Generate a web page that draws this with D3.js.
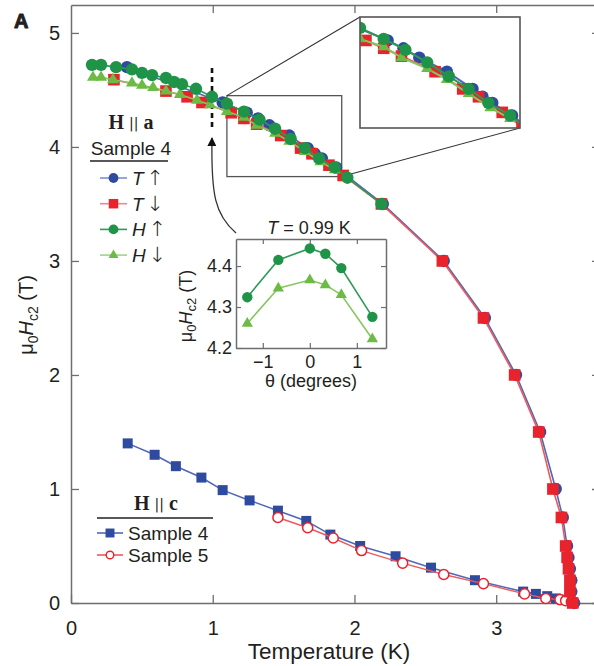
<!DOCTYPE html>
<html><head><meta charset="utf-8">
<script src="https://cdn.jsdelivr.net/npm/d3@7"></script>
<style>
body{margin:0;background:#fff}
text{font-family:"Liberation Sans",Arial,sans-serif;fill:#231f20}
</style>
</head><body>
<svg id="chart" width="594" height="666"></svg>
<script>
// Upper critical field of sample 4 for H || a
// T-sweeps (temperature up / down) and H-sweeps (field up / down)
const tUpT = [0.395, 1.07, 1.24, 1.32, 1.40, 1.54, 1.67, 1.72, 1.77, 1.87, 2.20, 2.63, 2.92, 3.14, 3.31, 3.42, 3.47, 3.50, 3.51, 3.52, 3.53, 3.53, 3.55];
const tUpH = [4.70, 4.39, 4.30, 4.25, 4.19, 4.10, 3.99, 3.94, 3.90, 3.82, 3.50, 3.00, 2.50, 2.00, 1.50, 1.00, 0.75, 0.50, 0.40, 0.30, 0.20, 0.10, 0.00];

const tDownT = [0.303, 0.670, 0.819, 0.924, 1.13, 1.22, 1.31, 1.48, 1.62, 1.70, 1.82, 1.92, 2.19, 2.62, 2.91, 3.13, 3.30, 3.40, 3.46, 3.49, 3.50, 3.51, 3.52, 3.52, 3.54];
const tDownH = [4.59, 4.49, 4.44, 4.39, 4.30, 4.25, 4.20, 4.10, 3.99, 3.94, 3.84, 3.75, 3.50, 3.00, 2.50, 2.00, 1.50, 1.00, 0.75, 0.50, 0.40, 0.30, 0.20, 0.10, 0.00];

const hUpT = [0.148, 0.212, 0.318, 0.430, 0.501, 0.572, 0.670, 0.727, 0.783, 0.882, 0.995, 1.10, 1.22, 1.33, 1.44, 1.55, 1.65, 1.75, 1.86, 1.95, 2.19];
const hUpH = [4.72, 4.72, 4.70, 4.68, 4.65, 4.63, 4.605, 4.57, 4.55, 4.51, 4.44, 4.38, 4.31, 4.24, 4.16, 4.07, 3.99, 3.90, 3.82, 3.73, 3.50];

const hDownT = [0.155, 0.212, 0.296, 0.430, 0.501, 0.579, 0.670, 0.769, 0.889, 0.981, 1.10, 1.22, 1.31, 1.44, 1.54, 1.65, 1.76, 1.86];
const hDownH = [4.61, 4.61, 4.59, 4.56, 4.54, 4.52, 4.49, 4.46, 4.41, 4.37, 4.31, 4.26, 4.19, 4.12, 4.05, 3.96, 3.87, 3.80];

// H || c, samples 4 and 5
const c4T = [0.40, 0.59, 0.74, 0.92, 1.07, 1.26, 1.46, 1.66, 1.83, 2.04, 2.29, 2.54, 2.85, 3.19, 3.28, 3.36, 3.42, 3.47, 3.51, 3.54];
const c4H = [1.40, 1.30, 1.20, 1.10, 0.99, 0.90, 0.81, 0.72, 0.60, 0.50, 0.41, 0.31, 0.20, 0.10, 0.08, 0.06, 0.04, 0.03, 0.02, 0.00];
const c5T = [1.46, 1.67, 1.85, 2.05, 2.34, 2.63, 2.91, 3.20, 3.35, 3.45, 3.49, 3.53];
const c5H = [0.75, 0.66, 0.57, 0.46, 0.35, 0.25, 0.17, 0.08, 0.04, 0.03, 0.02, 0.01];

// Angle dependence at T = 0.99 K
const thetaDeg = [-1.33, -0.67, 0, 0.33, 0.67, 1.33];
const angHup = [4.324, 4.415, 4.443, 4.430, 4.395, 4.276];
const angHdown = [4.260, 4.346, 4.366, 4.354, 4.330, 4.222];

const xTicks = [0, 1, 2, 3];
const yTicks = [0, 1, 2, 3, 4, 5];
const thetaTicks = [-1, 0, 1];
const angTicks = [4.2, 4.3, 4.4];

const C = {
  blue: "#2e4b9f", blueLine: "#5068b8",
  red: "#e8232b", redLine: "#ec5a5e",
  green: "#1f9448", greenLine: "#2d9a55",
  lgreen: "#6cbb45", lgreenLine: "#86c761",
  axis: "#6d6e71", ink: "#231f20"
};

const svg = d3.select("#chart");
svg.append("rect").attr("width", 594).attr("height", 666).attr("fill", "#fff");

const x = d3.scaleLinear().domain([0, 3.69]).range([71, 594]);
const y = d3.scaleLinear().domain([0, 5.245]).range([603, 5]);

const zip = (a, b) => a.map((v, i) => [v, b[i]]);
const series = {
  tUp: zip(tUpT, tUpH), tDown: zip(tDownT, tDownH),
  hUp: zip(hUpT, hUpH), hDown: zip(hDownT, hDownH),
  c4: zip(c4T, c4H), c5: zip(c5T, c5H)
};

// ---- axes ----
function styleAxis(g) {
  g.selectAll("path.domain").attr("stroke", C.axis).attr("stroke-width", 1.5);
  g.selectAll(".tick line").attr("stroke", C.axis).attr("stroke-width", 1.3);
  g.selectAll(".tick text").attr("font-size", 20).attr("fill", C.ink)
    .attr("font-family", "Liberation Sans, Arial, sans-serif");
}
svg.append("g").attr("transform", "translate(0,603)")
  .call(d3.axisBottom(x).tickValues(xTicks).tickFormat(d3.format("d")).tickSize(-8).tickSizeOuter(0).tickPadding(18))
  .call(styleAxis);
svg.append("g").attr("transform", "translate(71,0)")
  .call(d3.axisLeft(y).tickValues(yTicks).tickFormat(d3.format("d")).tickSize(-8).tickSizeOuter(0).tickPadding(11))
  .call(styleAxis);
svg.append("g").attr("transform", "translate(0,5)")
  .call(d3.axisTop(x).tickValues(xTicks.slice(1)).tickFormat("").tickSize(-8).tickSizeOuter(0))
  .call(styleAxis);
svg.append("g").attr("transform", "translate(600,0)")
  .call(d3.axisRight(y).tickValues(yTicks).tickFormat("").tickSize(-8).tickSizeOuter(0))
  .call(styleAxis);

svg.append("text").attr("x", 329).attr("y", 659).attr("text-anchor", "middle")
  .attr("font-size", 22.5).text("Temperature (K)");

const yl = svg.append("text").attr("transform", "translate(33,315) rotate(-90)")
  .attr("text-anchor", "middle").attr("font-size", 20);
yl.append("tspan").text("\u03bc");
yl.append("tspan").attr("font-size", 14).attr("dy", 5).text("0");
yl.append("tspan").attr("dy", -5).attr("font-style", "italic").text("H");
yl.append("tspan").attr("font-size", 14).attr("dy", 5).text("c2");
yl.append("tspan").attr("dy", -5).text(" (T)");

// panel letter
svg.append("text").attr("x", 14).attr("y", 28).attr("font-size", 20)
  .attr("font-weight", "bold").attr("font-family", "Liberation Sans, Arial, sans-serif")
  .attr("stroke", C.ink).attr("stroke-width", 0.9).attr("stroke-linejoin", "round").text("A");

// ---- zoom source box and connectors ----
const srcT = [1.10, 1.91], srcH = [3.74, 4.45];
const zoomBox = {x0: 360, x1: 520, y0: 17, y1: 128};
const gray = "#555";
svg.append("rect").attr("x", x(srcT[0])).attr("y", y(srcH[1]))
  .attr("width", x(srcT[1]) - x(srcT[0])).attr("height", y(srcH[0]) - y(srcH[1]))
  .attr("fill", "none").attr("stroke", gray).attr("stroke-width", 1.3);
svg.append("line").attr("x1", x(srcT[0])).attr("y1", y(srcH[1])).attr("x2", zoomBox.x0).attr("y2", zoomBox.y0)
  .attr("stroke", "#333").attr("stroke-width", 1.1);
svg.append("line").attr("x1", x(srcT[1])).attr("y1", y(srcH[0])).attr("x2", zoomBox.x1).attr("y2", zoomBox.y1)
  .attr("stroke", "#333").attr("stroke-width", 1.1);

// dashed marker at T = 0.99 K and curved pointer to the angle inset
svg.append("line").attr("x1", x(0.995)).attr("x2", x(0.995)).attr("y1", 68).attr("y2", 128)
  .attr("stroke", "#111").attr("stroke-width", 2.6).attr("stroke-dasharray", "5,4");
svg.append("defs").append("marker").attr("id", "arrow").attr("viewBox", "0 0 10 10")
  .attr("refX", 9).attr("refY", 5).attr("markerWidth", 7).attr("markerHeight", 7)
  .attr("orient", "auto").append("path").attr("d", "M0,0 L10,5 L0,10 z").attr("fill", "#111");
svg.append("path").attr("d", "M236,233 C215,215 211,195 212,138")
  .attr("fill", "none").attr("stroke", "#333").attr("stroke-width", 1.3).attr("marker-end", "url(#arrow)");

// ---- series drawing helper ----
function drawSeries(g, data, sx, sy, opt) {
  const line = d3.line().x(d => sx(d[0])).y(d => sy(d[1]));
  g.append("path").datum(data).attr("d", line).attr("fill", "none")
    .attr("stroke", opt.line).attr("stroke-width", opt.lw || 1.6);
  const sym = d3.symbol().type(opt.type).size(opt.size);
  g.selectAll(null).data(data).join("path")
    .attr("transform", d => `translate(${sx(d[0])},${sy(d[1])})`)
    .attr("d", sym)
    .attr("fill", opt.fill).attr("stroke", opt.stroke || "none").attr("stroke-width", opt.sw || 0);
}
const styles = {
  tUp: {type: d3.symbolCircle, size: 120, fill: C.blue, line: C.blueLine},
  tDown: {type: d3.symbolSquare, size: 135, fill: C.red, line: C.redLine},
  hDown: {type: d3.symbolTriangle, size: 62, fill: C.lgreen, line: C.lgreenLine},
  hUp: {type: d3.symbolCircle, size: 120, fill: C.green, line: C.greenLine}
};
const order = ["tUp", "tDown", "hDown", "hUp"];

const main = svg.append("g");
drawSeries(main, series.c4, x, y, {type: d3.symbolSquare, size: 100, fill: C.blue, line: C.blueLine});
drawSeries(main, series.c5, x, y, {type: d3.symbolCircle, size: 80, fill: "#fff", stroke: C.red, sw: 1.5, line: C.redLine, lw: 1.4});
order.forEach(k => drawSeries(main, series[k], x, y, styles[k]));

// ---- magnified view ----
const zx = d3.scaleLinear().domain(srcT).range([zoomBox.x0, zoomBox.x1]);
const zy = d3.scaleLinear().domain(srcH).range([zoomBox.y1, zoomBox.y0]);
svg.select("defs").append("clipPath").attr("id", "zclip").append("rect")
  .attr("x", zoomBox.x0).attr("y", zoomBox.y0)
  .attr("width", zoomBox.x1 - zoomBox.x0).attr("height", zoomBox.y1 - zoomBox.y0);
svg.append("rect").attr("x", zoomBox.x0).attr("y", zoomBox.y0)
  .attr("width", zoomBox.x1 - zoomBox.x0).attr("height", zoomBox.y1 - zoomBox.y0).attr("fill", "#fff");
const zg = svg.append("g").attr("clip-path", "url(#zclip)");
order.forEach(k => drawSeries(zg, series[k], zx, zy, Object.assign({}, styles[k], {lw: 2})));
svg.append("rect").attr("x", zoomBox.x0).attr("y", zoomBox.y0)
  .attr("width", zoomBox.x1 - zoomBox.x0).attr("height", zoomBox.y1 - zoomBox.y0)
  .attr("fill", "none").attr("stroke", gray).attr("stroke-width", 1.6);

// ---- angle inset ----
const ix = d3.scaleLinear().domain([-1.57, 1.62]).range([236, 386]);
const iy = d3.scaleLinear().domain([4.2, 4.466]).range([348, 239]);
const ins = svg.append("g");
ins.append("rect").attr("x", 236).attr("y", 239).attr("width", 150).attr("height", 109)
  .attr("fill", "#fff");
function styleInset(g) {
  g.selectAll("path.domain").attr("stroke", C.axis).attr("stroke-width", 1.5);
  g.selectAll(".tick line").attr("stroke", C.axis).attr("stroke-width", 1.2);
  g.selectAll(".tick text").attr("font-size", 18).attr("fill", C.ink)
    .attr("font-family", "Liberation Sans, Arial, sans-serif");
}
ins.append("g").attr("transform", "translate(0,348)")
  .call(d3.axisBottom(ix).tickValues(thetaTicks).tickFormat(d => d < 0 ? "\u2212" + Math.abs(d) : d).tickSize(-5).tickSizeOuter(0).tickPadding(7))
  .call(styleInset);
ins.append("g").attr("transform", "translate(0,239)")
  .call(d3.axisTop(ix).tickValues(thetaTicks).tickFormat("").tickSize(-5).tickSizeOuter(0))
  .call(styleInset);
ins.append("g").attr("transform", "translate(236,0)")
  .call(d3.axisLeft(iy).tickValues(angTicks).tickFormat(d3.format(".1f")).tickSize(-5).tickSizeOuter(0).tickPadding(4))
  .call(styleInset);
ins.append("g").attr("transform", "translate(386,0)")
  .call(d3.axisRight(iy).tickValues(angTicks).tickFormat("").tickSize(-5).tickSizeOuter(0))
  .call(styleInset);
drawSeries(ins, zip(thetaDeg, angHdown), ix, iy, {type: d3.symbolTriangle, size: 55, fill: C.lgreen, line: C.lgreenLine});
drawSeries(ins, zip(thetaDeg, angHup), ix, iy, {type: d3.symbolCircle, size: 85, fill: C.green, line: C.greenLine});

const it = ins.append("text").attr("x", 309).attr("y", 234).attr("text-anchor", "middle").attr("font-size", 18);
it.append("tspan").attr("font-style", "italic").text("T");
it.append("tspan").text(" = 0.99 K");
ins.append("text").attr("x", 311).attr("y", 387).attr("text-anchor", "middle").attr("font-size", 18)
  .text("\u03b8 (degrees)");
const iyl = ins.append("text").attr("transform", "translate(192,306) rotate(-90)")
  .attr("text-anchor", "middle").attr("font-size", 18);
iyl.append("tspan").text("\u03bc");
iyl.append("tspan").attr("font-size", 13).attr("dy", 4).text("0");
iyl.append("tspan").attr("dy", -4).attr("font-style", "italic").text("H");
iyl.append("tspan").attr("font-size", 13).attr("dy", 4).text("c2");
iyl.append("tspan").attr("dy", -4).text(" (T)");

// ---- legends ----
function header(g, cx, yb, letter) {
  const t = g.append("text").attr("x", cx).attr("y", yb).attr("text-anchor", "middle").attr("font-size", 20);
  t.append("tspan").attr("font-family", "Liberation Serif, serif").attr("font-weight", "bold").text("H");
  t.append("tspan").attr("font-size", 14).attr("dx", 5).attr("dy", -1).attr("font-family", "DejaVu Sans, sans-serif").text("||");
  t.append("tspan").attr("font-family", "Liberation Serif, serif").attr("font-weight", "bold").attr("dx", 5).attr("dy", 1).text(letter);
}
function entry(g, x0, x1, yc, opt, label) {
  g.append("line").attr("x1", x0).attr("x2", x1).attr("y1", yc).attr("y2", yc)
    .attr("stroke", opt.line).attr("stroke-width", 1.6);
  g.append("path").attr("transform", `translate(${(x0 + x1) / 2},${yc})`)
    .attr("d", d3.symbol().type(opt.type).size(opt.size))
    .attr("fill", opt.fill).attr("stroke", opt.stroke || "none").attr("stroke-width", opt.sw || 0);
  const t = g.append("text").attr("x", x1 + 5).attr("y", yc + 7).attr("font-size", 19);
  label(t);
}
const lgA = svg.append("g");
header(lgA, 131, 129, "a");
lgA.append("text").attr("x", 131).attr("y", 155).attr("text-anchor", "middle").attr("font-size", 19).text("Sample 4");
lgA.append("line").attr("x1", 90).attr("x2", 168).attr("y1", 161).attr("y2", 161).attr("stroke", C.ink).attr("stroke-width", 1.3);
const legA = [
  ["tUp", "T", "\u2191", "#7d8fd0"], ["tDown", "T", "\u2193", "#f2878a"],
  ["hUp", "H", "\u2191", C.greenLine], ["hDown", "H", "\u2193", "#9fd487"]
];
legA.forEach((e, i) => {
  const s = Object.assign({}, styles[e[0]], {line: e[3]});
  s.size = s.type === d3.symbolTriangle ? 42 : (s.type === d3.symbolSquare ? 90 : 75);
  entry(lgA, 100, 127, 178 + i * 25.7, s, t => {
    t.append("tspan").attr("font-style", "italic").text(e[1]);
    t.append("tspan").attr("dx", 3).attr("font-family", "DejaVu Sans, sans-serif")
      .attr("font-size", 21).attr("font-weight", 200).text(e[2]);
  });
});

const lgC = svg.append("g");
header(lgC, 156, 510, "c");
lgC.append("line").attr("x1", 97).attr("x2", 213).attr("y1", 518).attr("y2", 518).attr("stroke", C.ink).attr("stroke-width", 1.3);
entry(lgC, 97, 123, 533, {type: d3.symbolSquare, size: 80, fill: C.blue, line: C.blueLine}, t => t.text("Sample 4"));
entry(lgC, 97, 123, 555, {type: d3.symbolCircle, size: 45, fill: "#fff", stroke: C.red, sw: 1.4, line: C.redLine}, t => t.text("Sample 5"));
</script>
</body></html>
